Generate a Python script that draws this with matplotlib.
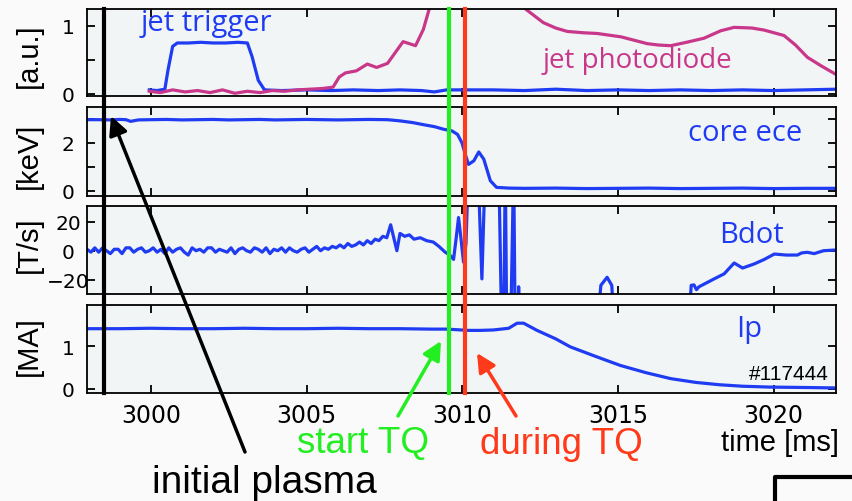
import numpy as np
import matplotlib
matplotlib.use('Agg')
import matplotlib.pyplot as plt
from matplotlib.lines import Line2D
from matplotlib.patches import FancyArrowPatch
from matplotlib.transforms import blended_transform_factory

W, H = 852, 502

def fx(x):
    return x / W

def fy(y):
    return 1 - y / H

# ---- data (time in ms) ----
trig_t = [2999.95, 3000.2, 3000.45, 3000.55, 3000.7, 3000.85, 3001.2, 3001.6, 3002.0, 3002.4,
          3002.8, 3003.1, 3003.25, 3003.45, 3003.65, 3004.2, 3005.0, 3005.8, 3006.5, 3007.3,
          3008.0, 3008.7, 3009.1, 3009.5, 3010.0, 3011.0, 3012.0, 3013.0, 3014.0, 3015.0,
          3016.0, 3017.0, 3018.0, 3019.0, 3020.0, 3021.0, 3022.0]
trig_v = [0.06, 0.05, 0.07, 0.35, 0.70, 0.75, 0.75, 0.76, 0.75, 0.75,
          0.76, 0.75, 0.55, 0.20, 0.06, 0.05, 0.06, 0.05, 0.06, 0.05,
          0.06, 0.05, 0.03, 0.06, 0.06, 0.06, 0.05, 0.07, 0.05, 0.06,
          0.05, 0.06, 0.05, 0.06, 0.05, 0.06, 0.07]

pd_t = [2999.95, 3000.3, 3000.7, 3001.1, 3001.5, 3001.9, 3002.3, 3002.7, 3003.1, 3003.5,
        3003.9, 3004.3, 3004.7, 3005.1, 3005.5, 3005.85, 3006.05, 3006.25, 3006.6, 3006.95,
        3007.25, 3007.6, 3008.1, 3008.5, 3008.75, 3008.97, 3009.1, 3010.0, 3011.0, 3011.9,
        3012.03, 3012.6, 3013.0, 3013.37, 3013.9, 3014.33, 3015.1, 3015.94, 3016.3, 3016.69,
        3017.2, 3017.76, 3018.3, 3018.73, 3019.3, 3019.69, 3020.33, 3020.7, 3021.08, 3021.5,
        3021.99]
pd_v = [0.04, 0.02, 0.06, 0.03, 0.05, 0.02, 0.06, 0.01, 0.04, 0.02,
        0.05, 0.04, 0.06, 0.07, 0.08, 0.10, 0.25, 0.31, 0.34, 0.44,
        0.39, 0.45, 0.77, 0.71, 0.95, 1.30, 1.80, 3.00, 3.00, 1.60,
        1.25, 1.05, 0.97, 0.92, 0.90, 0.89, 0.84, 0.74, 0.72, 0.71,
        0.76, 0.82, 0.93, 0.98, 0.97, 0.94, 0.86, 0.72, 0.54, 0.42,
        0.29]

ece_t = [2997.95, 2998.3, 2998.7, 2999.0, 2999.2, 2999.35, 2999.6, 3000.0, 3000.5, 3001.0,
         3001.5, 3002.0, 3002.5, 3003.0, 3003.5, 3004.0, 3004.5, 3005.0, 3005.5, 3006.0,
         3006.5, 3007.0, 3007.6, 3008.0, 3008.4, 3008.8, 3009.1, 3009.4, 3009.67, 3009.85,
         3009.99, 3010.1, 3010.2, 3010.37, 3010.53, 3010.69, 3010.8, 3010.9, 3011.1, 3011.5,
         3012.0, 3013.0, 3014.0, 3015.0, 3016.0, 3017.0, 3018.0, 3019.0, 3020.0, 3021.0,
         3022.0]
ece_v = [2.97, 2.97, 2.96, 2.98, 2.97, 2.90, 2.96, 2.97, 2.98, 2.96,
         2.97, 2.98, 2.96, 2.97, 2.98, 2.96, 2.97, 2.98, 2.97, 2.96,
         2.97, 2.98, 2.97, 2.92, 2.85, 2.75, 2.68, 2.57, 2.50, 2.35,
         2.00, 1.50, 1.10, 1.25, 1.62, 1.32, 0.85, 0.42, 0.14, 0.11,
         0.10, 0.11, 0.09, 0.10, 0.11, 0.09, 0.10, 0.11, 0.09, 0.10,
         0.10]

bdot_t0 = 2997.95
bdot_dt = 0.125
bdot_pre = [1, -1, 2, -1, 2, 0, -2, 1, 1, -2, 2, 2, -1, 1, 2, -1, 0, 2, -1, 1,
            -2, 2, -1, 1, 2, -1, -3, 2, 0, 1, -1, 2, 2, -1, 1, 0, -1, 2, -2, 1,
            2, 0, -1, 2, 1, -1, 2, -2, 1, 0, 2, -1, 2, 0, -1, 1, 2, -1, 1, 3,
            0, 2, 1, 3, 2, 4, 2, 5, 3, 4, 6, 4, 7, 5, 8, 7, 10, 9, 18]
bdot_t_post = [3007.9, 3008.0, 3008.15, 3008.3, 3008.45, 3008.65, 3008.85, 3009.07, 3009.25, 3009.45,
               3009.6, 3009.72, 3009.8, 3009.88, 3009.95, 3010.04, 3010.12, 3010.2, 3010.3, 3010.5,
               3010.63, 3010.74, 3010.85, 3011.17, 3011.27, 3011.33, 3011.38, 3011.43, 3011.55, 3011.65,
               3011.7, 3011.76, 3011.81, 3011.86, 3014.3, 3014.45, 3014.65, 3014.8, 3014.9, 3017.25,
               3017.35, 3017.44, 3017.52, 3017.6, 3018.09, 3018.41, 3018.73, 3019.0, 3019.37, 3019.7,
               3020.02, 3020.4, 3020.76, 3020.9, 3021.08, 3021.3, 3021.6, 3021.99]
bdot_v_post = [0, 12, 10, 11, 8, 9, 7, 6, 3, -1,
               -3, -6, 8, 23, 10, -8, 5, 60, 40, 60,
               -19.5, 60, 60, 60, -60, -60, 60, -60, -60, 60,
               -60, -60, -25, -60, -60, -24, -18.4, -24, -60, -60,
               -24, -23.7, -27, -25, -19.5, -16, -8.5, -12, -9.2, -6,
               -2.3, -3, -3, -1.5, -1.1, -2, 0, 0.5]

ip_t = [2997.95, 2999.0, 3000.0, 3001.0, 3002.0, 3003.0, 3004.0, 3005.0, 3006.0, 3007.0,
        3008.0, 3009.0, 3009.5, 3010.2, 3010.58, 3011.0, 3011.49, 3011.76, 3011.97, 3012.4,
        3013.0, 3013.47, 3014.3, 3015.08, 3015.9, 3016.69, 3017.5, 3018.26, 3019.0, 3019.87,
        3021.0, 3021.99]
ip_v = [1.42, 1.42, 1.43, 1.42, 1.42, 1.43, 1.42, 1.42, 1.43, 1.42,
        1.42, 1.41, 1.41, 1.38, 1.38, 1.39, 1.43, 1.55, 1.55, 1.38,
        1.18, 0.99, 0.76, 0.55, 0.38, 0.24, 0.15, 0.095, 0.06, 0.04,
        0.03, 0.02]

t_initial = 2998.49
t_start_tq = 3009.56
t_during_tq = 3010.09
shot = '#117444'

# ---- style ----
blue = '#1f3cf2'
magenta = '#c8378a'
green = '#22ee22'
red = '#ff3a1a'
face = '#f1f5f6'

bdot_t = list(bdot_t0 + bdot_dt * np.arange(len(bdot_pre))) + bdot_t_post
bdot_v = bdot_pre + bdot_v_post

fig = plt.figure(figsize=(W / 100, H / 100), dpi=100)
fig.patch.set_facecolor('#fafafa')

left, right = fx(87), fx(836)
panels = [(10, 97), (108, 197), (207, 295), (306, 394)]
axes = []
for top, bot in panels:
    ax = fig.add_axes([left, fy(bot), right - left, fy(top) - fy(bot)])
    ax.set_facecolor(face)
    ax.set_xlim(2997.95, 3022)
    ax.set_xticks([3000, 3005, 3010, 3015, 3020])
    ax.tick_params(direction='in', top=True, right=True, length=6, width=1.3,
                   labelsize=14.5, pad=13.5)
    ax.tick_params(axis='x', labelsize=17, pad=7.5)
    for s in ax.spines.values():
        s.set_linewidth(1.3)
    axes.append(ax)

ax1, ax2, ax3, ax4 = axes
for ax in (ax1, ax2, ax3):
    ax.tick_params(labelbottom=False)

lw = 2.3
ax1.plot(trig_t, trig_v, color=blue, lw=lw)
ax1.plot(pd_t, pd_v, color=magenta, lw=lw)
ax1.set_ylim(-0.03, 1.25)
ax1.set_yticks([0, 0.5, 1])
ax1.set_yticklabels(['0', '', '1'])

ax2.plot(ece_t, ece_v, color=blue, lw=lw)
ax2.set_ylim(-0.22, 3.5)
ax2.set_yticks([0, 1, 2, 3])
ax2.set_yticklabels(['0', '', '2', ''])

ax3.plot(bdot_t, bdot_v, color=blue, lw=lw)
ax3.set_ylim(-30, 31)
ax3.set_yticks([-20, 0, 20])

ax4.plot(ip_t, ip_v, color=blue, lw=lw)
ax4.set_ylim(-0.1, 1.98)
ax4.set_yticks([0, 1])

# y tick labels sit centred in a column left of the axes
for ax in axes:
    for lab in ax.get_yticklabels():
        lab.set_horizontalalignment('center')

# vertical markers running through all panels
tr = blended_transform_factory(ax4.transData, fig.transFigure)
for t, c in [(t_initial, 'black'), (t_start_tq, green), (t_during_tq, red)]:
    fig.add_artist(Line2D([t, t], [fy(10), fy(394)], transform=tr, color=c, lw=3))

# y labels
lab_font = 'Liberation Sans'
for txt, yc in [('[a.u.]', 56), ('[keV]', 156), ('[T/s]', 245), ('[MA]', 346)]:
    fig.text(fx(29), fy(yc), txt, rotation=90, ha='center', va='center',
             fontsize=21, family=lab_font)

# panel labels
pl_font = 'Open Sans'
fig.text(fx(141), fy(31), 'jet trigger', color=blue, fontsize=21, family=pl_font)
fig.text(fx(543), fy(68), 'jet photodiode', color=magenta, fontsize=20, family=pl_font)
fig.text(fx(688), fy(141), 'core ece', color=blue, fontsize=21, family=pl_font)
fig.text(fx(719), fy(243), 'Bdot', color=blue, fontsize=21, family=pl_font)
fig.text(fx(736), fy(337), 'Ip', color=blue, fontsize=21, family=pl_font)
fig.text(fx(829), fy(380), shot, ha='right', fontsize=15, family=lab_font)

# annotations below
fig.text(fx(297), fy(453), 'start TQ', color=green, fontsize=26.5, family=lab_font)
fig.text(fx(480), fy(454), 'during TQ', color=red, fontsize=26.5, family=lab_font)
fig.text(fx(721), fy(451), 'time [ms]', fontsize=21, family=lab_font)
fig.text(fx(152), fy(493), 'initial plasma', fontsize=28, family=lab_font)

for (x0, y0), (x1, y1), c in [((245, 453), (111, 117), 'black'),
                              ((398, 417), (441, 342), green),
                              ((516, 417), (477, 354), red)]:
    fig.add_artist(FancyArrowPatch((fx(x0), fy(y0)), (fx(x1), fy(y1)),
                                   transform=fig.transFigure, arrowstyle='-|>',
                                   mutation_scale=28, color=c, lw=2.5,
                                   shrinkA=0, shrinkB=0))

# corner of a frame at bottom right
fig.add_artist(Line2D([fx(775), fx(775), fx(852)], [fy(502), fy(478), fy(478)],
                      transform=fig.transFigure, color='black', lw=3))

plt.savefig('out.png', dpi=100, facecolor=fig.get_facecolor())
